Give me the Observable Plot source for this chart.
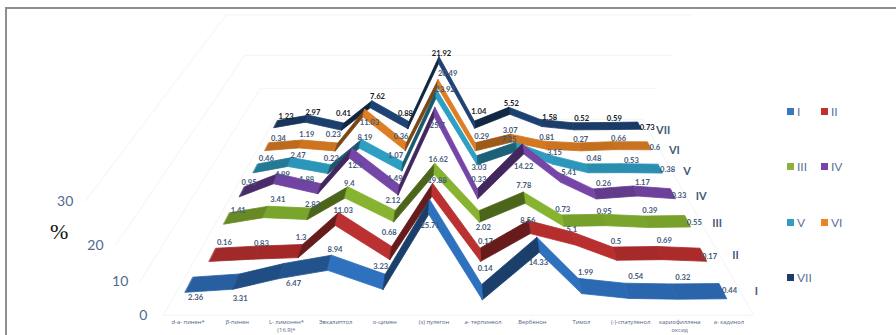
<!DOCTYPE html>
<html>
<head>
<meta charset="utf-8">
<script src="https://cdn.jsdelivr.net/npm/d3@7"></script>
<script src="https://cdn.jsdelivr.net/npm/@observablehq/plot@0.6"></script>
<style>
  html, body { margin: 0; padding: 0; background: #fff; overflow: hidden; }
  #stage { position: relative; width: 896px; height: 335px; overflow: hidden; }
  #frame { position: absolute; left: 5px; top: 7px; right: -4px; bottom: -4px; border-left: 2px solid #8e8e8e; border-top: 2px solid #8e8e8e; }
  #percent { position: absolute; left: 50px; top: 219px; font: 22px "Liberation Serif", serif; color: #111; }
  .key { position: absolute; display: flex; align-items: center; font: 12px Lato, sans-serif; color: #5b7496; }
  .key i { display: block; width: 7px; height: 7px; margin-right: 3px; }
</style>
</head>
<body>
<div id="stage"><div id="frame"></div><div id="percent">%</div></div>
<script>
// Essential-oil constituents (% of total) for seven samples.
const categories = ["d-а- пинен*", "β-пинен", "L- лимонен*\n(16.9)*", "Эвкалиптол", "о-цимен", "(s) пулегон",
  "а- терпинеол", "Вербенон", "Тимол", "(-)-спатуленол", "кариофиллена\nоксид", "а- кадинол"];
const seriesNames = ["I", "II", "III", "IV", "V", "VI", "VII"];
const valuesI = [2.36, 3.31, 6.47, 8.94, 3.23, 25.71, 0.14, 14.33, 1.99, 0.54, 0.32, 0.44];
const valuesII = [0.16, 0.83, 1.3, 11.03, 0.68, 19.88, 0.17, 8.56, 5.1, 0.5, 0.69, 0.17];
const valuesIII = [1.41, 3.41, 2.83, 9.4, 2.12, 16.62, 2.02, 7.78, 0.73, 0.95, 0.39, 0.55];
const valuesIV = [0.95, 4.99, 1.88, 12.9, 1.49, 25.7, 0.33, 14.22, 5.41, 0.26, 1.17, 0.33];
const valuesV = [0.46, 2.47, 0.22, 8.19, 1.07, 23.92, 3.03, 7.25, 3.15, 0.48, 0.53, 0.38];
const valuesVI = [0.34, 1.19, 0.23, 11.03, 0.36, 20.49, 0.29, 3.07, 0.81, 0.27, 0.66, 0.6];
const valuesVII = [1.23, 2.97, 0.41, 7.62, 0.88, 21.92, 1.04, 5.52, 1.58, 0.52, 0.59, 0.73];
const seriesValues = [valuesI, valuesII, valuesIII, valuesIV, valuesV, valuesVI, valuesVII];
const seriesColors = ["#2a66ad", "#a92b2b", "#79a32c", "#6a3f98", "#2a8fb0", "#c9721f", "#1b3c68"];
const legendColors = ["#3a78bd", "#c0302e", "#8db23c", "#7446a8", "#2f9fc0", "#ed8424", "#1d3c6c"];
const gridLevels = [0, 10, 20, 30];

// Data-label placement relative to each ribbon vertex: [dx, dy] in screen pixels.
const labelShift = [
  [[2,20],[0,24],[9,20],[3,-6],[-5,-8],[0,26],[3,-16],[1,25],[7,-6],[11,-7],[11,-7],[10,7]],
  [[8,-6],[2,-3],[-2,-7],[4,-2],[-3,-14],[4,-3],[5,-7],[-1,-1],[-1,-3],[3,-6],[7,-6],[9,8]],
  [[8,-3],[9,-7],[1,-4],[1,-4],[-3,-10],[3,-4],[4,16],[0,-7],[1,-6],[1,-3],[6,-6],[9,7]],
  [[4,-5],[4,0],[-15,-5],[3,17],[-5,-7],[2,18],[1,-10],[1,22],[10,0],[10,-6],[9,-4],[8,6]],
  [[8,-6],[6,-3],[0,-7],[3,-2],[-8,-7],[8,-1],[2,11],[-7,-3],[3,-3],[8,-6],[9,-4],[9,5]],
  [[9,-5],[4,-6],[-5,-9],[4,13],[-6,-7],[9,-7],[6,-7],[-1,-4],[2,-4],[2,-4],[5,-4],[7,5]],
  [[8,-4],[4,-3],[-1,-10],[5,-5],[-4,-9],[2,-4],[4,-10],[2,-4],[9,-2],[9,-5],[9,-4],[9,5]]
];

// Perspective camera for the ribbon scene. i = category, k = depth row, v = percent.
// Returns scene coordinates: category units across and percent units up; the x and y
// scales below turn these into pixels.
const scaleAt = k => 1 / (1 + 0.076 * k);
function project(i, k, v, dx = 0, dy = 0) {
  const s = scaleAt(k);
  const px = 458 + (i - 5.5) * 47.3 * s * (1 + 0.0078 * v) + dx;
  const py = -228 + 513 * s - v * (3.33 - 0.04 * k) + dy;
  return {x: (px - 458) / 47.3, y: (285.5 - py) / 3.33};
}
// Excel-style walls flare a little with height.
const bend = v => v * (1 + 0.13 * Math.pow(v / 30, 3));

// One quad per ribbon segment, painted from the outer categories towards the peak.
const ribbonDepth = 0.38;
const quads = [];
seriesValues.forEach((vals, k) => {
  const base = d3.color(seriesColors[k]);
  const dark = base.darker(1.35), light = base.brighter(0.28);
  const order = d3.range(11).sort((a, b) => Math.abs(b - 4.5) - Math.abs(a - 4.5));
  quads.push(...order.flatMap(seg => {
    const rise = Math.max(-1, Math.min(1, (vals[seg + 1] - vals[seg]) / 5));
    const shade = rise > 0 ? d3.interpolateRgb(base, dark)(rise) : d3.interpolateRgb(base, light)(-rise);
    return [seg, seg + 1].map(i => {
      const back = project(i, k, vals[i]), front = project(i, k - ribbonDepth, vals[i]);
      return {id: k * 100 + seg, k, x1: back.x, y1: back.y, x2: front.x, y2: front.y, shade};
    });
  }));
});

// Paint back rows first.
const rowsBackToFront = d3.range(6, -1, -1);
const ribbonMarks = rowsBackToFront.map(k => Plot.area(quads.filter(q => q.k === k), {
  x1: "x1", y1: "y1", x2: "x2", y2: "y2", z: "id", fill: "shade", stroke: "shade", strokeWidth: 0.8
}));

const valueLabels = seriesValues.flatMap((vals, k) => vals.map((v, i) => {
  const [dx, dy] = labelShift[k][i];
  return {...project(i, k, v, dx, dy), k, text: String(v)};
}));

const front = -0.72, backRow = 6.31;
const wallLines = gridLevels.flatMap(level => {
  const rows = [
    project(-0.4, front, bend(level)),
    project(-0.25, backRow, bend(level)),
    project(11.25, backRow, bend(level))
  ];
  return rows.map(r => ({...r, level}));
});
const floorRight = [project(11.25, backRow, 0), project(11.4, front, 0), project(-0.4, front, 0)];
const tickLabels = gridLevels.map(level => ({...project(-0.4, front, bend(level), -20, 0), text: String(level)}));
const categoryLabels = categories.map((c, i) => ({...project(i, -0.5, 0, 0, 0), y: project(i, front, 0, 0, 3).y, text: c}));
const rowLabels = seriesNames.map((n, k) => ({...project(11.8, k, 0, 0, 6), text: n}));

const pxX = p => (p - 458) / 47.3, pxY = p => (285.5 - p) / 3.33;
const chart = Plot.plot({
  width: 896,
  height: 335,
  margin: 0,
  style: {background: "transparent", overflow: "visible"},
  x: {domain: [pxX(0), pxX(896)], range: [0, 896], axis: null},
  y: {domain: [pxY(335), pxY(0)], range: [335, 0], axis: null},
  color: {type: "identity"},
  marks: [
    Plot.line(wallLines, {x: "x", y: "y", z: "level", stroke: "#f3f3f3", strokeWidth: 1}),
    Plot.line(floorRight, {x: "x", y: "y", stroke: "#f3f3f3", strokeWidth: 1}),
    ...ribbonMarks,
    Plot.text(valueLabels.filter(d => d.k < 6), {x: "x", y: "y", text: "text", fill: "#44597a",
      fontSize: 7.6, fontWeight: 700, fontFamily: "Lato, sans-serif"}),
    Plot.text(valueLabels.filter(d => d.k === 6), {x: "x", y: "y", text: "text", fill: "#141a24",
      fontSize: 7.6, fontWeight: 700, fontFamily: "Lato, sans-serif"}),
    Plot.text(rowLabels, {x: "x", y: "y", text: "text", fill: "#44597a",
      fontSize: 11, fontWeight: 700, fontFamily: "Lato, sans-serif"}),
    Plot.text(tickLabels, {x: "x", y: "y", text: "text", fill: "#4d6a90",
      fontSize: 14, fontFamily: "Lato, sans-serif"}),
    Plot.text(categoryLabels, {x: "x", y: "y", text: "text", fill: "#50627f", lineAnchor: "top",
      lineHeight: 1.35, fontSize: 5.8, fontFamily: "'Open Sans', sans-serif"})
  ]
});
chart.style.position = "absolute";
chart.style.left = "0";
chart.style.top = "0";
const stage = document.getElementById("stage");
stage.appendChild(chart);

// Two-column legend on the right.
seriesNames.forEach((name, k) => {
  const key = document.createElement("div");
  key.className = "key";
  key.style.left = (k % 2 ? 821 : 787) + "px";
  key.style.top = (112 + 55.3 * Math.floor(k / 2) - 8) + "px";
  const swatch = document.createElement("i");
  swatch.style.background = legendColors[k];
  key.append(swatch, name);
  stage.appendChild(key);
});
</script>
</body>
</html>
